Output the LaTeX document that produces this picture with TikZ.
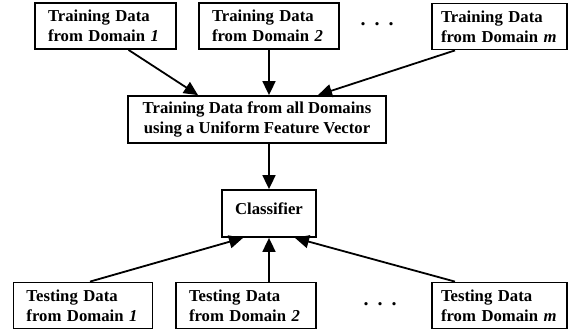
\documentclass[tikz,border=0pt]{standalone}
\usepackage{fontspec}
\setmainfont{Liberation Serif}
\usetikzlibrary{arrows.meta}
\begin{document}
\begin{tikzpicture}[x=1pt,y=-1pt,
  font=\fontsize{16.7}{20}\selectfont\bfseries,
  databox/.style={draw, line width=1.8pt, align=left, inner xsep=13pt, minimum height=46pt, anchor=center},
  bigbox/.style={draw, line width=1.8pt, align=center, minimum width=258pt, minimum height=47pt},
  conn/.style={line width=1.8pt, -{Triangle[length=14pt,width=13pt]}},
  dotsnode/.style={inner sep=0pt, font=\fontsize{20}{20}\selectfont\bfseries}]
\useasboundingbox (0,0) rectangle (571,331);
% top row
\node[databox, text width=115pt] (t1) at (105.5,26) {Training Data\\from Domain \textit{1}};
\node[databox, text width=114pt] (t2) at (269,26) {Training Data\\from Domain \textit{2}};
\node[databox, text width=117pt, inner xsep=9pt] (t3) at (499.5,26.5) {Training Data\\from Domain \textit{m}};
\node[dotsnode] (td) at (377,24) {.\hspace{9pt}.\hspace{9pt}.};
% middle
\node[bigbox] (mid) at (257,119.5) {Training Data from all Domains\\using a Uniform Feature Vector};
\node[draw, line width=1.8pt, minimum width=94pt, minimum height=47pt,
      label={[anchor=center, yshift=5pt]center:Classifier}] (cls) at (269,213.5) {};
% bottom row
\node[databox, text width=113pt] (b1) at (83,305.5) {Testing Data\\from Domain \textit{1}};
\node[databox, text width=114pt] (b2) at (246,305.5) {Testing Data\\from Domain \textit{2}};
\node[databox, text width=117pt, inner xsep=9pt] (b3) at (499.5,305.5) {Testing Data\\from Domain \textit{m}};
\node[dotsnode] (bd) at (380,304) {.\hspace{9pt}.\hspace{9pt}.};
% connectors
\draw[conn] ([xshift=23pt]t1.south) -- ([xshift=-59pt]mid.north);
\draw[conn] (t2.south) -- (t2.south |- mid.north);
\draw[conn] ([xshift=-44.5pt]t3.south) -- ([xshift=61pt]mid.north);
\draw[conn] (cls.north |- mid.south) -- (cls.north);
\draw[conn] ([xshift=7pt]b1.north) -- ([xshift=-26pt]cls.south);
\draw[conn] ([xshift=23pt]b2.north) -- (cls.south);
\draw[conn] ([xshift=-44.5pt]b3.north) -- ([xshift=26pt]cls.south);
\end{tikzpicture}
\end{document}
